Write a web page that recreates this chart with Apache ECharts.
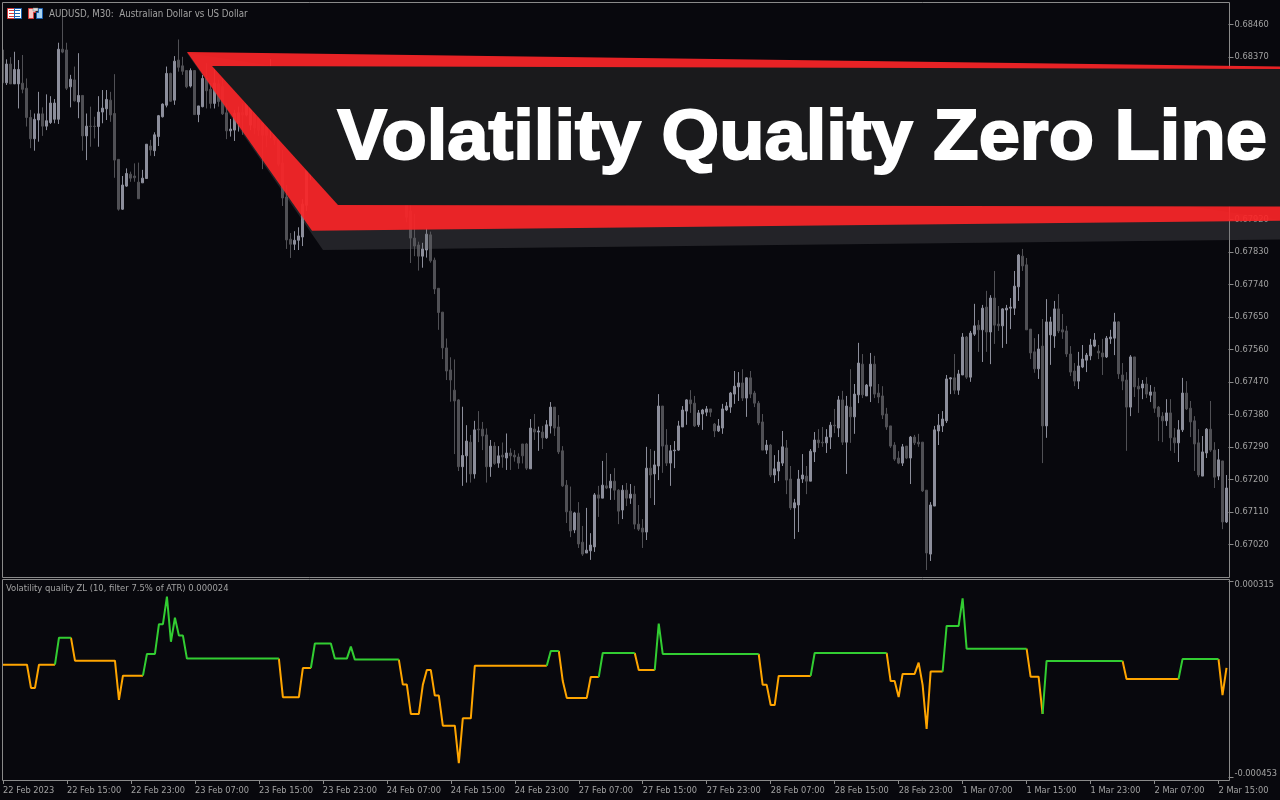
<!DOCTYPE html>
<html><head><meta charset="utf-8">
<style>html,body{margin:0;padding:0;background:#08080d}#c{width:1280px;height:800px}</style>
<script src="https://cdn.jsdelivr.net/npm/echarts@6/dist/echarts.min.js"></script>
</head><body><div id="c"></div>
<script>
// prices in 1e-5 units, one value per 30-minute bar
const opens=[
68389,68298,68350,68295,68295,68297,68283,68202,68143,68195,
68212,68178,68188,68197,68197,68391,68389,68287,68306,68245,
68263,68151,68178,68178,68177,68217,68226,68250,68213,68086,
67948,68012,68045,68040,68023,68021,68033,68123,68110,68149,
68204,68236,68324,68250,68361,68345,68332,68289,68332,68210,
68232,68310,68280,68241,68295,68287,68215,68165,68167,68186,
68215,68209,68181,68223,68201,68187,68175,68181,68223,68140,
68076,67982,67865,67851,67862,67871,67959,68051,68106,68153,
68112,68189,68228,68184,68145,68112,68175,68217,68173,68123,
68084,68151,68189,68140,68095,68051,68123,68076,68023,68062,
68006,67973,67943,67868,67849,67818,67835,67877,67807,67729,
67663,67564,67503,67447,67420,67235,67265,67303,67215,67339,
67339,67323,67235,67292,67245,67267,67259,67273,67267,67262,
67298,67298,67229,67339,67331,67331,67315,67348,67400,67345,
67279,67184,67112,67060,67107,67026,66996,67002,67013,67157,
67148,67182,67176,67195,67170,67115,67170,67148,67159,67076,
67065,67054,67231,67215,67237,67403,67295,67245,67279,67281,
67345,67389,67420,67411,67351,67381,67386,67395,67353,67334,
67342,67392,67400,67436,67456,67467,67425,67481,67439,67411,
67359,67281,67295,67212,67223,67245,67287,67201,67121,67129,
67201,67209,67195,67276,67309,67303,67301,67317,67350,67342,
67420,67303,67400,67373,67434,67519,67431,67458,67519,67439,
67431,67381,67348,67295,67259,67245,67292,67259,67317,67303,
67303,67170,66993,67126,67334,67348,67362,67478,67481,67447,
67489,67594,67483,67602,67627,67614,67677,67608,67702,67630,
67625,67669,67674,67674,67733,67818,67794,67616,67553,67506,
67569,67348,67600,67597,67672,67614,67611,67547,67500,67472,
67511,67530,67542,67569,67555,67550,67539,67589,67591,67636,
67489,67475,67400,67539,67458,67453,67464,67433,67442,67400,
67375,67362,67384,67315,67301,67337,67439,67397,67362,67301,
67209,67273,67339,67281,67209,67251,67082];
const closes=[
68298,68350,68295,68335,68335,68280,68202,68143,68197,68212,
68178,68193,68242,68242,68391,68383,68283,68308,68248,68263,
68151,68178,68177,68177,68217,68228,68252,68209,68084,67948,
68015,68047,68034,68035,67977,68034,68128,68112,68154,68207,
68239,68324,68247,68358,68341,68330,68287,68332,68210,68234,
68310,68276,68241,68297,68246,68212,68165,68170,68213,68215,
68209,68241,68236,68173,68167,68153,68153,68250,68140,68073,
67979,67863,67851,67862,67874,67962,68056,68112,68153,68112,
68195,68228,68181,68140,68112,68181,68217,68167,68117,68084,
68156,68189,68134,68090,68051,68123,68070,68023,68062,68001,
67968,67926,67868,67846,67818,67838,67879,67805,67727,67662,
67564,67500,67475,67417,67235,67266,67306,67215,67337,67337,
67320,67235,67292,67244,67265,67262,67273,67265,67262,67245,
67265,67231,67342,67331,67334,67315,67351,67400,67342,67276,
67182,67110,67057,67107,67021,66993,67004,67018,67157,67148,
67184,67176,67195,67170,67112,67170,67148,67159,67076,67062,
67054,67231,67212,67240,67403,67292,67245,67279,67281,67348,
67392,67420,67409,67348,67384,67392,67395,67386,67334,67348,
67395,67403,67439,67458,67467,67425,67481,67436,67411,67356,
67281,67295,67212,67229,67248,67290,67198,67121,67135,67201,
67212,67195,67278,67309,67301,67301,67317,67350,67348,67420,
67303,67403,67373,67436,67522,67434,67461,67519,67436,67428,
67378,67345,67292,67256,67245,67290,67259,67317,67301,67298,
67168,66996,67129,67337,67350,67367,67478,67481,67447,67492,
67594,67483,67605,67625,67614,67674,67608,67702,67627,67625,
67672,67674,67677,67735,67821,67791,67614,67550,67506,67561,
67348,67636,67636,67672,67611,67608,67547,67497,67472,67514,
67533,67544,67572,67586,67550,67539,67591,67594,67636,67492,
67472,67400,67539,67456,67450,67464,67436,67442,67397,67373,
67362,67384,67315,67301,67337,67439,67395,67359,67298,67212,
67276,67339,67281,67206,67254,67082,67176];
const highs=[
68389,68363,68369,68384,68361,68375,68310,68223,68213,68273,
68230,68266,68261,68253,68409,68481,68409,68320,68343,68380,
68264,68213,68232,68204,68261,68278,68278,68273,68322,68086,
68040,68061,68052,68075,68077,68057,68128,68140,68161,68209,
68241,68343,68326,68372,68418,68370,68333,68338,68333,68234,
68320,68352,68297,68338,68306,68310,68241,68198,68223,68232,
68241,68250,68250,68239,68217,68201,68189,68364,68236,68167,
68112,68015,67882,67887,67898,67976,68056,68139,68173,68167,
68217,68250,68239,68201,68162,68195,68228,68233,68184,68140,
68173,68206,68201,68151,68112,68140,68140,68090,68084,68073,
68023,67984,67959,67935,67858,67855,67895,67886,67814,67729,
67663,67590,67538,67532,67422,67401,67350,67323,67362,67389,
67359,67341,67309,67303,67292,67302,67327,67286,67281,67272,
67298,67301,67367,67381,67346,67348,67364,67414,67400,67378,
67292,67198,67180,67110,67137,67071,67121,67051,67162,67182,
67251,67273,67215,67231,67173,67184,67190,67187,67182,67129,
67090,67290,67284,67279,67436,67403,67339,67295,67306,67362,
67403,67422,67447,67431,67392,67395,67403,67395,67356,67367,
67409,67414,67442,67500,67497,67505,67483,67500,67445,67417,
67381,67309,67298,67267,67281,67334,67309,67237,67146,67226,
67270,67237,67284,67331,67339,67345,67339,67359,67395,67431,
67445,67431,67505,67464,67578,67547,67464,67550,67542,67464,
67458,67398,67348,67303,67278,67298,67292,67320,67323,67326,
67303,67170,67137,67348,67381,67389,67489,67483,67547,67503,
67605,67597,67611,67686,67641,67683,67722,67710,67777,67680,
67674,67683,67702,67777,67824,67838,67813,67616,67591,67602,
67644,67699,67650,67694,67713,67658,67625,67569,67522,67553,
67572,67550,67589,67605,67572,67589,67597,67614,67661,67638,
67522,67497,67544,67539,67481,67475,67483,67461,67456,67403,
67386,67422,67422,67342,67364,67481,67472,67417,67375,67339,
67320,67342,67417,67303,67284,67251,67212];
const lows=[
68292,68292,68295,68295,68227,68269,68177,68117,68110,68135,
68151,68167,68184,68186,68184,68380,68278,68230,68246,68200,
68110,68084,68121,68144,68121,68186,68195,68190,68035,67944,
67946,68010,68024,68024,67977,68021,68033,68096,68095,68123,
68202,68230,68245,68237,68329,68320,68283,68285,68209,68189,
68230,68227,68227,68227,68232,68209,68142,68149,68137,68163,
68154,68205,68167,68156,68151,68059,68120,68145,68126,68067,
67957,67838,67813,67835,67835,67846,67943,68029,68084,68090,
68098,68173,68162,68123,68095,68095,68162,68151,68101,68067,
68070,68140,68117,68073,68034,68040,68051,68006,68012,67984,
67962,67912,67799,67818,67778,67786,67814,67800,67713,67614,
67533,67475,67415,67270,67223,67182,67191,67191,67202,67303,
67281,67191,67207,67240,67232,67232,67226,67226,67249,67229,
67244,67226,67229,67309,67279,67284,67312,67327,67320,67270,
67179,67079,67040,67051,67010,66988,66996,66977,66999,67096,
67148,67173,67143,67143,67076,67090,67126,67132,67062,67057,
67010,67032,67148,67129,67198,67218,67237,67182,67231,67279,
67345,67351,67384,67345,67345,67337,67375,67373,67317,67331,
67326,67389,67384,67409,67417,67417,67373,67425,67400,67350,
67281,67270,67206,67190,67195,67237,67159,67115,67035,67054,
67190,67159,67195,67248,67287,67290,67273,67284,67328,67317,
67295,67215,67301,67326,67411,67425,67431,67414,67425,67411,
67367,67337,67287,67251,67242,67237,67256,67187,67295,67290,
67165,66949,66974,67126,67295,67331,67356,67436,67436,67434,
67489,67478,67470,67597,67553,67525,67553,67519,67575,67611,
67564,67575,67616,67655,67694,67777,67614,67533,67495,67478,
67245,67315,67517,67564,67605,67589,67539,67486,67458,67450,
67508,67497,67530,67566,67533,67489,67536,67575,67544,67478,
67447,67279,67375,67428,67384,67422,67425,67414,67384,67306,
67303,67348,67279,67273,67248,67331,67392,67317,67223,67206,
67209,67259,67276,67176,67198,67062,67079];
// Volatility quality zero line, in 1e-6 units
const zeroLine=[
-13,-13,-13,-13,-13,-13,-13,-104,-104,-13,
-13,-13,-13,-13,93,93,93,93,3,3,
3,3,3,3,3,3,3,3,3,-151,
-56,-56,-56,-56,-56,-56,29,29,29,146,
146,254,77,171,101,101,11,11,11,11,
11,11,11,11,11,11,11,11,11,11,
11,11,11,11,11,11,11,11,11,11,
-140,-140,-140,-140,-140,-26,-26,-26,70,70,
70,70,70,11,11,11,11,58,7,7,
7,7,7,7,7,7,7,7,7,7,
-91,-91,-206,-206,-206,-92,-34,-34,-134,-134,
-252,-252,-252,-252,-399,-223,-223,-223,-17,-17,
-17,-17,-17,-17,-17,-17,-17,-17,-17,-17,
-17,-17,-17,-17,-17,-17,-17,41,41,41,
-77,-143,-143,-143,-143,-143,-143,-61,-61,-61,
33,33,33,33,33,33,33,33,33,-34,
-34,-34,-34,-34,148,29,29,29,29,29,
29,29,29,29,29,29,29,29,29,29,
29,29,29,29,29,29,29,29,29,29,
-92,-92,-171,-171,-57,-57,-57,-57,-57,-57,
-57,-57,-57,33,33,33,33,33,33,33,
33,33,33,33,33,33,33,33,33,33,
33,33,-77,-77,-140,-49,-49,-49,-49,-5,
-92,-265,-40,-40,-40,-40,139,139,139,139,
247,50,50,50,50,50,50,50,50,50,
50,50,50,50,50,50,50,-60,-60,-60,
-206,2,2,2,2,2,2,2,2,2,
2,2,2,2,2,2,2,2,2,2,
2,-69,-69,-69,-69,-69,-69,-69,-69,-69,
-69,-69,-69,-69,-69,9,9,9,9,9,
9,9,9,9,9,-132,-25];
// bars whose incoming segment is drawn green: [first,last]
const greenRuns=[[14,17],[36,69],[78,99],[137,139],[150,158],[164,189],[203,221],[236,256],[261,280],[295,304]];
const timeLabels=['22 Feb 2023','22 Feb 15:00','22 Feb 23:00','23 Feb 07:00','23 Feb 15:00','23 Feb 23:00','24 Feb 07:00','24 Feb 15:00','24 Feb 23:00','27 Feb 07:00','27 Feb 15:00','27 Feb 23:00','28 Feb 07:00','28 Feb 15:00','28 Feb 23:00','1 Mar 07:00','1 Mar 15:00','1 Mar 23:00','2 Mar 07:00','2 Mar 15:00'];
const priceTicks=[0.67020,0.67110,0.67200,0.67290,0.67380,0.67470,0.67560,0.67650,0.67740,0.67830,0.67920,0.68010,0.68100,0.68190,0.68280,0.68370,0.68460];
const zeroTicks=[-0.000453,0.000315];

const BG='#08080d',GREY='#8a8a8a',TXT='#a2a2a2',FONT='"DejaVu Sans Condensed","DejaVu Sans"';
const n=opens.length;
const cats=opens.map((_,i)=>i%16===0?timeLabels[i/16]:'');
const candles=opens.map((o,i)=>[o/1e5,closes[i]/1e5,lows[i]/1e5,highs[i]/1e5]);
const isGreen=new Array(n).fill(false);
greenRuns.forEach(r=>{for(let i=r[0];i<=r[1];i++)isGreen[i]=true;});
const zl=zeroLine.map(v=>v/1e6);
const zlGreen=zl.map((v,i)=>(isGreen[i]||isGreen[i+1])?v:null);
const zlOrange=zl.map((v,i)=>(!isGreen[i]||(i+1<n&&!isGreen[i+1]))?v:null);

const chart=echarts.init(document.getElementById('c'),null,{renderer:'canvas'});
const Z=100;
chart.setOption({
 animation:false,backgroundColor:BG,
 grid:[{left:0.5,top:3,width:1228,height:574},{left:0.5,top:580,width:1228,height:200}],
 xAxis:[
  {type:'category',gridIndex:0,data:cats,boundaryGap:true,axisLine:{show:false,onZero:false},axisTick:{show:false},axisLabel:{show:false},splitLine:{show:false}},
  {type:'category',gridIndex:1,data:cats,boundaryGap:true,position:'bottom',axisLine:{show:false,onZero:false},
   axisTick:{show:true,alignWithLabel:true,interval:15,length:4,lineStyle:{color:GREY}},
   axisLabel:{show:true,interval:15,align:'left',margin:6,color:TXT,fontFamily:FONT,fontSize:9.2,hideOverlap:false},splitLine:{show:false}}
 ],
 yAxis:[
  {type:'value',gridIndex:0,position:'right',min:0.669296,max:0.68519,axisLine:{show:false},
   axisTick:{show:true,length:5,customValues:priceTicks,lineStyle:{color:GREY}},
   axisLabel:{show:true,customValues:priceTicks,margin:6,padding:[2,0,0,0],color:TXT,fontFamily:FONT,fontSize:9.2,formatter:v=>v.toFixed(5)},splitLine:{show:false}},
  {type:'value',gridIndex:1,position:'right',min:-0.0004647,max:0.0003189,axisLine:{show:false},
   axisTick:{show:true,length:5,customValues:zeroTicks,lineStyle:{color:GREY}},
   axisLabel:{show:true,customValues:zeroTicks,margin:6,color:TXT,fontFamily:FONT,fontSize:9.2,lineHeight:7,formatter:v=>v.toFixed(6),verticalAlignMaxLabel:'top',verticalAlignMinLabel:'bottom'},splitLine:{show:false}}
 ],
 series:[
  {type:'candlestick',xAxisIndex:0,yAxisIndex:0,data:candles,barWidth:3,clip:true,
   itemStyle:{color:'#8c8e9b',color0:'#505055',borderColor:'#8c8e9b',borderColor0:'#505055',borderWidth:1}},
  {type:'line',xAxisIndex:1,yAxisIndex:1,data:zlOrange,showSymbol:false,connectNulls:false,lineStyle:{color:'#ffa500',width:2}},
  {type:'line',xAxisIndex:1,yAxisIndex:1,data:zlGreen,showSymbol:false,connectNulls:false,lineStyle:{color:'#32cd32',width:2}}
 ],
 graphic:[
  {type:'rect',z:50,silent:true,shape:{x:0,y:0,width:2,height:782},style:{fill:BG}},
  {type:'rect',z:51,silent:true,shape:{x:2.5,y:2.5,width:1227,height:575},style:{fill:'none',stroke:GREY,lineWidth:1}},
  {type:'rect',z:51,silent:true,shape:{x:2.5,y:579.5,width:1227,height:201},style:{fill:'none',stroke:GREY,lineWidth:1}},
  // header icons
  {type:'rect',z:52,shape:{x:7.5,y:8.5,width:7,height:10},style:{fill:'#fff',stroke:'#d93a3a'}},
  {type:'rect',z:52,shape:{x:14.5,y:8.5,width:7,height:10},style:{fill:'#fff',stroke:'#1b5fb0'}},
  {type:'rect',z:53,shape:{x:9,y:10,width:5,height:1},style:{fill:'#d93a3a'}},
  {type:'rect',z:53,shape:{x:9,y:13,width:5,height:1},style:{fill:'#d93a3a'}},
  {type:'rect',z:53,shape:{x:9,y:16,width:5,height:1},style:{fill:'#d93a3a'}},
  {type:'rect',z:53,shape:{x:15,y:10,width:5,height:1},style:{fill:'#1b5fb0'}},
  {type:'rect',z:53,shape:{x:15,y:13,width:5,height:1},style:{fill:'#1b5fb0'}},
  {type:'rect',z:53,shape:{x:15,y:16,width:5,height:1},style:{fill:'#1b5fb0'}},
  {type:'polygon',z:52,shape:{points:[[28.5,8.5],[35.5,8.5],[35.5,12.5],[33.5,12.5],[33.5,18.5],[28.5,18.5]]},style:{fill:'#f7c9c5',stroke:'#d93a3a'}},
  {type:'polygon',z:52,shape:{points:[[38.5,8.5],[42.5,8.5],[42.5,18.5],[36.5,18.5],[36.5,12.5],[38.5,12.5]]},style:{fill:'#a9d4f2',stroke:'#1b5fb0'}},
  {type:'rect',z:53,shape:{x:33,y:8,width:5,height:3},style:{fill:'#ddd',stroke:'#777',lineWidth:0.5}},
  {type:'text',z:52,style:{x:49,y:14,text:'AUDUSD, M30:  Australian Dollar vs US Dollar',fill:TXT,font:'9.7px '+FONT,verticalAlign:'middle',textAlign:'left'}},
  {type:'text',z:52,style:{x:6,y:589,text:'Volatility quality ZL (10, filter 7.5% of ATR) 0.000024',fill:TXT,font:'9.4px '+FONT,verticalAlign:'middle',textAlign:'left'}},
  // title banner
  {type:'polygon',z:Z,silent:true,shape:{points:[[187,53],[323,250],[1280,239.5],[1280,220]]},style:{fill:'rgba(98,98,102,0.3)'}},
  {type:'polygon',z:Z+1,silent:true,shape:{points:[[187,52],[1280,66.6],[1280,220.7],[312,230.7]]},style:{fill:'rgba(251,37,39,0.92)'}},
  {type:'polygon',z:Z+2,silent:true,shape:{points:[[212,66],[1280,69],[1280,206.5],[338,205]]},style:{fill:'#1a1a1c'}},
  {type:'text',z:Z+3,silent:true,x:337.5,y:139,scaleX:1.044,style:{x:0,y:0,text:'Volatility Quality Zero Line',fill:'#fff',stroke:'#fff',lineWidth:2,font:'bold 71px "Liberation Sans"',verticalAlign:'middle',textAlign:'left'}}
 ]
});
</script></body></html>
